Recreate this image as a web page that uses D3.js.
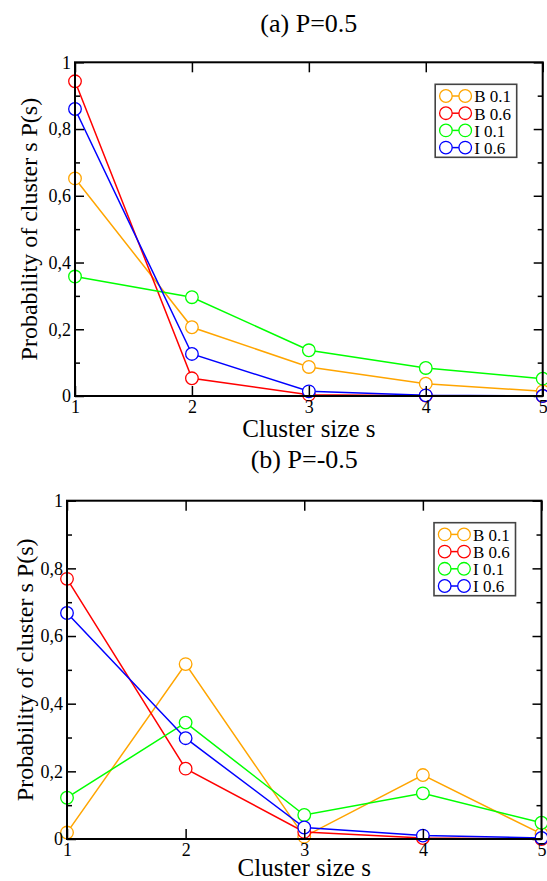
<!DOCTYPE html>
<html>
<head>
<meta charset="utf-8">
<script src="https://cdn.jsdelivr.net/npm/d3@7"></script>
<style>
  html, body { margin: 0; padding: 0; background: #fff; }
  svg { display: block; }
  text { font-family: "Liberation Serif", "Times New Roman", serif; fill: #000; }
</style>
</head>
<body>
<svg id="chart" width="547" height="881"></svg>
<script>
// Cluster sizes on the x axis
const clusterSizes = [1, 2, 3, 4, 5];

// Series names and colours (shared by both panels)
const seriesNames = ["B 0.1", "B 0.6", "I 0.1", "I 0.6"];
const seriesColors = ["#ffa500", "#ff0000", "#00ff00", "#0000ff"];

// Panel (a) P=0.5 : probability of cluster size s
const panelA_B01 = [0.652, 0.206, 0.087, 0.037, 0.014];
const panelA_B06 = [0.943, 0.053, 0.004, 0.001, 0.000];
const panelA_I01 = [0.358, 0.296, 0.137, 0.084, 0.052];
const panelA_I06 = [0.860, 0.126, 0.014, 0.002, 0.000];

// Panel (b) P=-0.5 : probability of cluster size s
const panelB_B01 = [0.019, 0.517, 0.007, 0.189, 0.015];
const panelB_B06 = [0.769, 0.208, 0.021, 0.003, 0.000];
const panelB_I01 = [0.122, 0.344, 0.071, 0.135, 0.048];
const panelB_I06 = [0.668, 0.298, 0.034, 0.010, 0.003];

// Axis ticks and labels
const yMajorTicks = [0, 0.2, 0.4, 0.6, 0.8, 1];
const yMajorLabels = ["0", "0,2", "0,4", "0,6", "0,8", "1"];
const yMinorTicks = [0.1, 0.3, 0.5, 0.7, 0.9];
const xTickLabels = ["1", "2", "3", "4", "5"];

const titles = ["(a) P=0.5", "(b) P=-0.5"];
const xAxisTitle = "Cluster size s";
const yAxisTitle = "Probability of cluster s P(s)";

const svg = d3.select("#chart");

function drawPanel(cfg) {
  const { left, right, top, bottom, title, series, titleY, yTitleX, xTitleGap } = cfg;
  const x = d3.scaleLinear().domain([1, 5]).range([left, right]);
  const y = d3.scaleLinear().domain([0, 1]).range([bottom, top]);
  const g = svg.append("g");

  // data: line then hollow circle markers, set by set
  series.forEach((vals, i) => {
    const pts = clusterSizes.map((s, k) => [s, vals[k]]);
    g.append("path")
      .datum(pts)
      .attr("fill", "none")
      .attr("stroke", seriesColors[i])
      .attr("stroke-width", 1.5)
      .attr("d", d3.line().x(d => x(d[0])).y(d => y(d[1])));
    g.selectAll(null)
      .data(pts)
      .enter().append("circle")
      .attr("cx", d => x(d[0]))
      .attr("cy", d => y(d[1]))
      .attr("r", 6.3)
      .attr("fill", "#fff")
      .attr("stroke", seriesColors[i])
      .attr("stroke-width", 1.3);
  });

  // inward ticks on all four sides
  const tickStyle = sel => {
    sel.select(".domain").remove();
    sel.selectAll(".tick line").attr("stroke", "#000").attr("stroke-width", 1.5);
    sel.selectAll("text").style("font-size", "18px")
      .style("font-family", "'Liberation Serif', 'Times New Roman', serif");
  };

  g.append("g").attr("transform", `translate(0,${bottom})`)
    .call(d3.axisBottom(x).tickValues(clusterSizes)
      .tickFormat((d, i) => xTickLabels[i]).tickSize(-10).tickPadding(4).tickSizeOuter(0))
    .call(tickStyle);
  g.append("g").attr("transform", `translate(0,${top})`)
    .call(d3.axisTop(x).tickValues(clusterSizes).tickFormat("").tickSize(-10).tickSizeOuter(0))
    .call(tickStyle);
  g.append("g").attr("transform", `translate(${left},0)`)
    .call(d3.axisLeft(y).tickValues(yMajorTicks)
      .tickFormat((d, i) => yMajorLabels[i]).tickSize(-9).tickPadding(4).tickSizeOuter(0))
    .call(tickStyle);
  g.append("g").attr("transform", `translate(${left},0)`)
    .call(d3.axisLeft(y).tickValues(yMinorTicks).tickFormat("").tickSize(-5).tickSizeOuter(0))
    .call(tickStyle);
  g.append("g").attr("transform", `translate(${right},0)`)
    .call(d3.axisRight(y).tickValues(yMajorTicks).tickFormat("").tickSize(-9).tickSizeOuter(0))
    .call(tickStyle);
  g.append("g").attr("transform", `translate(${right},0)`)
    .call(d3.axisRight(y).tickValues(yMinorTicks).tickFormat("").tickSize(-5).tickSizeOuter(0))
    .call(tickStyle);

  // frame
  g.append("rect")
    .attr("x", left).attr("y", top)
    .attr("width", right - left).attr("height", bottom - top)
    .attr("fill", "none").attr("stroke", "#000").attr("stroke-width", 2);

  // titles
  const cx = (left + right) / 2;
  g.append("text").attr("x", cx).attr("y", titleY)
    .attr("text-anchor", "middle").style("font-size", "26px").text(title);
  g.append("text").attr("x", cx).attr("y", bottom + xTitleGap)
    .attr("text-anchor", "middle").style("font-size", "25px").text(xAxisTitle);
  g.append("text")
    .attr("transform", `translate(${yTitleX},${(top + bottom) / 2}) rotate(-90)`)
    .attr("text-anchor", "middle").style("font-size", "24px").text(yAxisTitle);

  // legend
  const lx = right - 107.5, ly = top + 22;
  const lg = g.append("g").attr("transform", `translate(${lx},${ly})`);
  lg.append("rect").attr("width", 81.5).attr("height", 73)
    .attr("fill", "#fff").attr("stroke", "#444").attr("stroke-width", 1.6);
  seriesNames.forEach((name, i) => {
    const ey = 11.7 + i * 17.2;
    lg.append("line").attr("x1", 10.7).attr("x2", 30).attr("y1", ey).attr("y2", ey)
      .attr("stroke", seriesColors[i]).attr("stroke-width", 1.5);
    [10.7, 30].forEach(cxx => {
      lg.append("circle").attr("cx", cxx).attr("cy", ey).attr("r", 6.3)
        .attr("fill", "#fff").attr("stroke", seriesColors[i]).attr("stroke-width", 1.3);
    });
    lg.append("text").attr("x", 39).attr("y", ey + 6.5)
      .style("font-size", "17px").text(name);
  });
}

drawPanel({
  left: 75, right: 542.7, top: 62.3, bottom: 396,
  title: titles[0], titleY: 32, yTitleX: 37, xTitleGap: 41,
  series: [panelA_B01, panelA_B06, panelA_I01, panelA_I06]
});

drawPanel({
  left: 67, right: 541.5, top: 500.7, bottom: 839,
  title: titles[1], titleY: 468, yTitleX: 33, xTitleGap: 36.5,
  series: [panelB_B01, panelB_B06, panelB_I01, panelB_I06]
});
</script>
</body>
</html>
